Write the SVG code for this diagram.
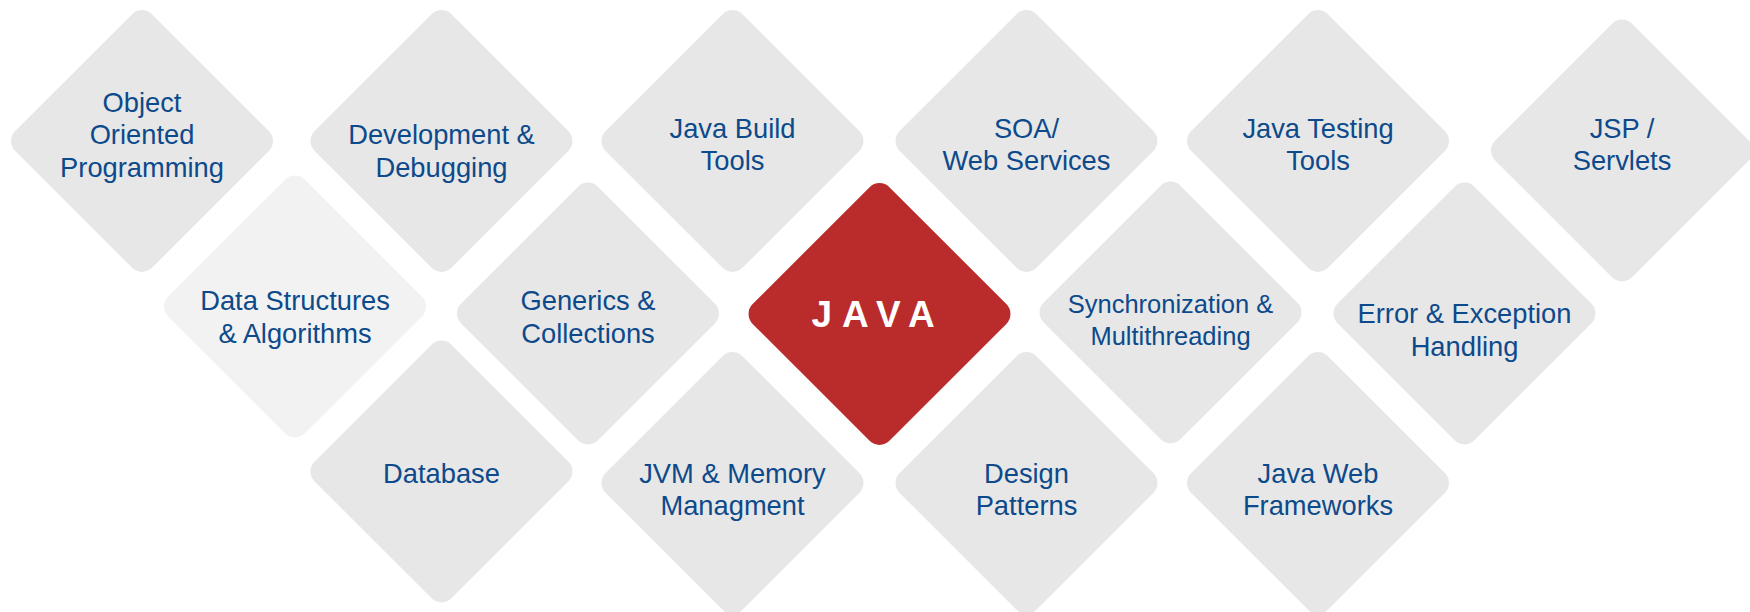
<svg xmlns="http://www.w3.org/2000/svg" width="1750" height="612" viewBox="0 0 1750 612">
<defs>
<style>
.d{fill:#e7e7e7}
.dl{fill:#f2f2f2}
.dr{fill:#ba2b2c}
.t{font-family:"Liberation Sans",Arial,sans-serif;font-size:27.3px;fill:#0d4a8b;text-anchor:middle}
.ts{font-size:25.5px}
.j{font-family:"Liberation Sans",Arial,sans-serif;font-size:37px;font-weight:bold;fill:#ffffff;text-anchor:middle;letter-spacing:10px}
</style>
<rect id="dm" x="-96.7" y="-96.7" width="193.4" height="193.4" rx="14" transform="rotate(45)"/>
</defs>
<rect width="1750" height="612" fill="#ffffff"/>
<g id="connectors"></g>
<g id="n-oop"><use href="#dm" class="d" x="142" y="141"/><text class="t" x="142"><tspan x="142" y="111.7">Object</tspan><tspan x="142" y="144.2">Oriented</tspan><tspan x="142" y="176.7">Programming</tspan></text></g>
<g id="n-dev"><use href="#dm" class="d" x="441.5" y="141"/><text class="t"><tspan x="441.5" y="144.2">Development &amp;</tspan><tspan x="441.5" y="176.7">Debugging</tspan></text></g>
<g id="n-build"><use href="#dm" class="d" x="732.5" y="141"/><text class="t"><tspan x="732.5" y="137.7">Java Build</tspan><tspan x="732.5" y="170.2">Tools</tspan></text></g>
<g id="n-soa"><use href="#dm" class="d" x="1026.5" y="141"/><text class="t"><tspan x="1026.5" y="137.7">SOA/</tspan><tspan x="1026.5" y="170.2">Web Services</tspan></text></g>
<g id="n-testing"><use href="#dm" class="d" x="1318" y="141"/><text class="t"><tspan x="1318" y="137.7">Java Testing</tspan><tspan x="1318" y="170.2">Tools</tspan></text></g>
<g id="n-jsp"><use href="#dm" class="d" x="1622" y="150.5"/><text class="t"><tspan x="1622" y="137.7">JSP /</tspan><tspan x="1622" y="170.2">Servlets</tspan></text></g>
<g id="n-ds"><use href="#dm" class="dl" x="295" y="306.5"/><text class="t"><tspan x="295" y="310.2">Data Structures</tspan><tspan x="295" y="342.7">&amp; Algorithms</tspan></text></g>
<g id="n-generics"><use href="#dm" class="d" x="588" y="313.5"/><text class="t"><tspan x="588" y="310.2">Generics &amp;</tspan><tspan x="588" y="342.7">Collections</tspan></text></g>
<g id="n-java"><use href="#dm" class="dr" x="879.5" y="314"/><text class="j" x="878" y="326.5">JAVA</text></g>
<g id="n-sync"><use href="#dm" class="d" x="1170.5" y="312.5"/><text class="t ts"><tspan x="1170.5" y="312.5">Synchronization &amp;</tspan><tspan x="1170.5" y="344.5">Multithreading</tspan></text></g>
<g id="n-error"><use href="#dm" class="d" x="1464.5" y="313.5"/><text class="t"><tspan x="1464.5" y="322.7">Error &amp; Exception</tspan><tspan x="1464.5" y="355.7">Handling</tspan></text></g>
<g id="n-db"><use href="#dm" class="d" x="441.5" y="471.5"/><text class="t" x="441.5" y="482.7">Database</text></g>
<g id="n-jvm"><use href="#dm" class="d" x="732.5" y="483"/><text class="t"><tspan x="732.5" y="482.7">JVM &amp; Memory</tspan><tspan x="732.5" y="515.3">Managment</tspan></text></g>
<g id="n-design"><use href="#dm" class="d" x="1026.5" y="483"/><text class="t"><tspan x="1026.5" y="482.7">Design</tspan><tspan x="1026.5" y="515.3">Patterns</tspan></text></g>
<g id="n-web"><use href="#dm" class="d" x="1318" y="483"/><text class="t"><tspan x="1318" y="482.7">Java Web</tspan><tspan x="1318" y="515.3">Frameworks</tspan></text></g>
</svg>
